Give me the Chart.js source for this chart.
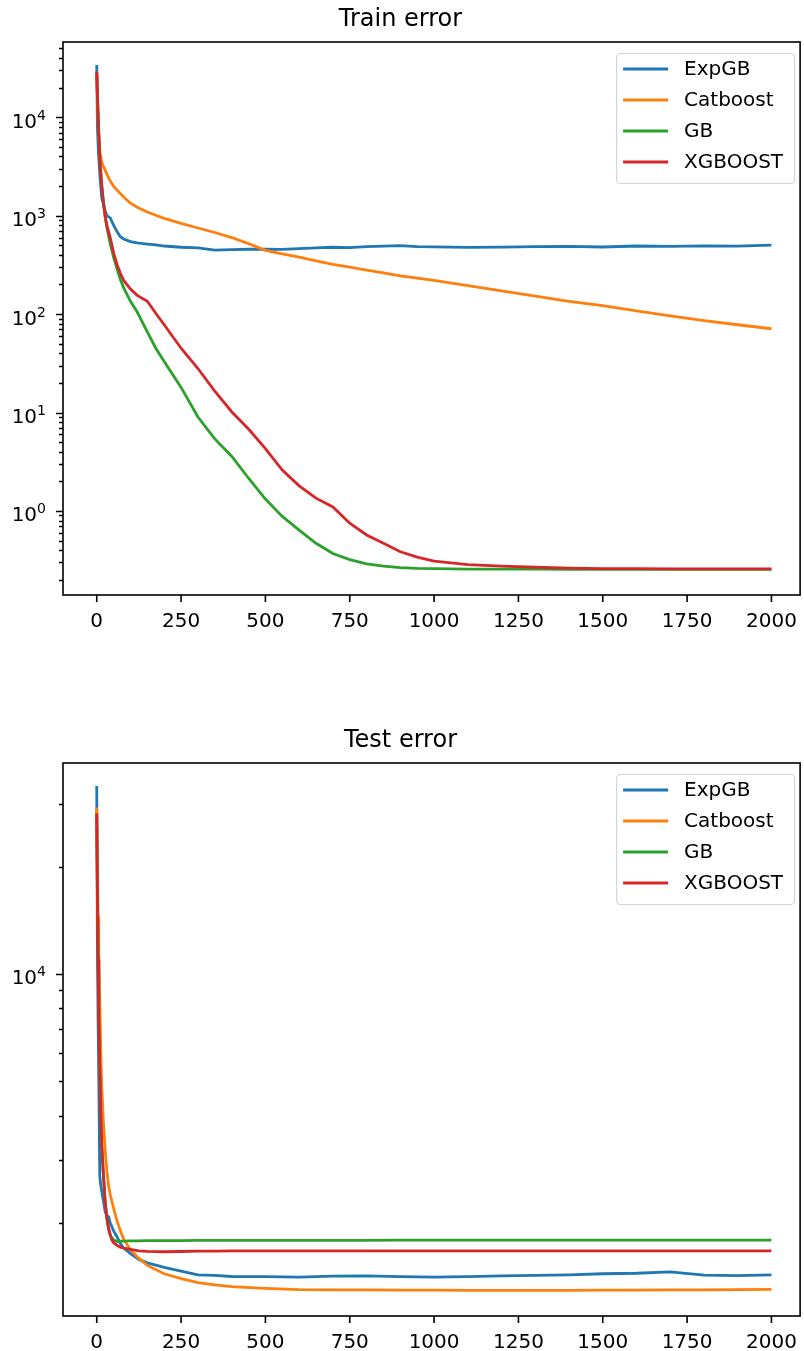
<!DOCTYPE html>
<html>
<head>
<meta charset="utf-8">
<script src="https://cdn.jsdelivr.net/npm/chart.js@4/dist/chart.umd.min.js"></script>
<style>
  html, body { margin: 0; padding: 0; background: #fff; overflow: hidden; }
  canvas { position: absolute; left: 0; }
  #train { top: 0; }
  #test { top: 700px; }
</style>
</head>
<body>
<canvas id="train" width="804" height="660"></canvas>
<canvas id="test" width="804" height="651"></canvas>
<script>
const seriesNames = ["ExpGB", "Catboost", "GB", "XGBOOST"];
const seriesColors = ["#1f77b4", "#ff7f0e", "#2ca02c", "#d62728"];
const xTicks = [0, 250, 500, 750, 1000, 1250, 1500, 1750, 2000];

// train error (log)
const trainIters = [0, 2, 5, 10, 15, 20, 25, 30, 40, 50, 60, 70, 80, 100, 120, 150, 175, 200, 250, 300, 350, 400, 450, 500, 550, 600, 650, 700, 750, 800, 850, 900, 950, 1000, 1100, 1200, 1300, 1400, 1500, 1600, 1700, 1800, 1900, 2000];
const trainExpGB = [33900, 8000, 4500, 2400, 1500, 1300, 1120, 1000, 950, 800, 690, 612, 580, 545, 530, 515, 505, 492, 478, 470, 447, 452, 456, 458, 455, 462, 470, 478, 474, 485, 490, 496, 486, 482, 476, 479, 485, 488, 481, 492, 487, 494, 490, 503];
const trainCatboost = [29000, 16000, 7400, 4200, 3500, 3150, 2900, 2650, 2250, 2000, 1820, 1680, 1550, 1340, 1220, 1090, 1010, 940, 835, 750, 675, 600, 520, 445, 410, 380, 348, 320, 300, 280, 262, 245, 232, 220, 195, 172, 152, 135, 122, 108, 96, 86, 78, 71];
const trainGB = [28000, 17000, 8300, 3300, 2000, 1350, 980, 760, 520, 380, 290, 225, 185, 135, 105, 66, 45, 33, 18, 9, 5.4, 3.6, 2.15, 1.32, 0.88, 0.64, 0.47, 0.37, 0.32, 0.29, 0.275, 0.266, 0.261, 0.259, 0.257, 0.256, 0.256, 0.255, 0.255, 0.255, 0.255, 0.255, 0.255, 0.255];
const trainXGB = [29000, 17000, 8300, 3300, 2000, 1350, 980, 800, 600, 420, 320, 260, 220, 180, 155, 135, 102, 78, 45, 28, 16.5, 10.2, 6.8, 4.3, 2.6, 1.8, 1.35, 1.1, 0.75, 0.57, 0.47, 0.385, 0.34, 0.31, 0.285, 0.275, 0.268, 0.263, 0.26, 0.259, 0.258, 0.258, 0.258, 0.258];
const trainDecades = [0, 1, 2, 3, 4];

// test error (log)
const testIters = [0, 2, 4, 6, 9, 12, 15, 20, 25, 30, 35, 40, 45, 50, 60, 70, 80, 100, 125, 150, 200, 250, 300, 350, 400, 500, 600, 700, 800, 900, 1000, 1100, 1200, 1300, 1400, 1500, 1600, 1700, 1800, 1900, 2000];
const testExpGB = [33700, 12000, 7500, 5200, 2700, 2550, 2450, 2300, 2150, 2100, 2080, 2000, 1950, 1900, 1830, 1750, 1700, 1640, 1580, 1545, 1500, 1465, 1430, 1425, 1415, 1414, 1410, 1418, 1420, 1414, 1410, 1414, 1420, 1425, 1430, 1440, 1445, 1458, 1428, 1422, 1429];
const testCatboost = [29300, 20000, 14500, 11500, 8500, 6000, 4800, 3800, 3200, 2800, 2550, 2400, 2300, 2200, 2030, 1900, 1800, 1680, 1590, 1520, 1440, 1395, 1360, 1340, 1325, 1310, 1300, 1298, 1297, 1296, 1295, 1294, 1294, 1294, 1294, 1295, 1296, 1297, 1298, 1300, 1302];
const testGB = [28000, 17000, 11000, 7500, 5400, 4000, 3300, 2700, 2300, 2060, 1930, 1850, 1815, 1790, 1775, 1777, 1779, 1781, 1782, 1783, 1784, 1785, 1786, 1786, 1787, 1787, 1788, 1788, 1788, 1789, 1789, 1789, 1789, 1790, 1790, 1790, 1790, 1790, 1790, 1790, 1790];
const testXGB = [28250, 17000, 11000, 7500, 5400, 4000, 3300, 2700, 2300, 2060, 1930, 1850, 1790, 1760, 1730, 1710, 1700, 1685, 1670, 1665, 1660, 1663, 1666, 1668, 1669, 1670, 1670, 1670, 1670, 1670, 1670, 1670, 1670, 1670, 1670, 1670, 1670, 1670, 1670, 1670, 1670];
const testDecades = [4];

const FONT = "'DejaVu Sans', 'Liberation Sans', sans-serif";

// matplotlib-ish spines, ticks, log labels and legend
const mplAxes = {
  id: "mplAxes",
  afterDatasetsDraw(chart, args, opts) {
    const { ctx, chartArea: a, scales } = chart;
    const x = scales.x, y = scales.y;
    ctx.save();
    ctx.strokeStyle = "#000";
    ctx.lineWidth = 1.6;
    ctx.strokeRect(a.left, a.top, a.right - a.left, a.bottom - a.top);

    ctx.beginPath();
    xTicks.forEach(v => {
      const px = x.getPixelForValue(v);
      ctx.moveTo(px, a.bottom);
      ctx.lineTo(px, a.bottom + 7);
    });
    // y ticks: majors + minors
    const lo = y.min, hi = y.max;
    for (let e = -2; e <= 5; e++) {
      for (let k = 1; k <= 9; k++) {
        const v = k * Math.pow(10, e);
        if (v < lo || v > hi) continue;
        const py = Math.round(y.getPixelForValue(v)) + 0.5;
        const len = k === 1 ? 7 : 4;
        ctx.moveTo(a.left, py);
        ctx.lineTo(a.left - len, py);
      }
    }
    ctx.stroke();

    // y labels 10^e
    ctx.fillStyle = "#000";
    ctx.textBaseline = "alphabetic";
    opts.decades.forEach(e => {
      const py = y.getPixelForValue(Math.pow(10, e));
      ctx.font = "14px " + FONT;
      const ew = ctx.measureText(String(e)).width;
      const right = a.left - 17;
      ctx.textAlign = "right";
      ctx.fillText(String(e), right, py + 2.5);
      ctx.font = "20px " + FONT;
      ctx.fillText("10", right - ew, py + 10.5);
    });

    // legend box
    const bx = a.right - 184, by = a.top + 11, bw = 178, bh = 130;
    ctx.beginPath();
    ctx.roundRect(bx + 0.5, by + 0.5, bw, bh, 4);
    ctx.fillStyle = "rgba(255,255,255,0.8)";
    ctx.fill();
    ctx.strokeStyle = "#d5d5d5";
    ctx.lineWidth = 1.2;
    ctx.stroke();
    chart.data.datasets.forEach((ds, i) => {
      const ly = by + 16 + i * 31;
      ctx.beginPath();
      ctx.strokeStyle = ds.borderColor;
      ctx.lineWidth = 2.8;
      ctx.moveTo(bx + 7, ly);
      ctx.lineTo(bx + 52, ly);
      ctx.stroke();
      ctx.fillStyle = "#000";
      ctx.font = "20px " + FONT;
      ctx.textAlign = "left";
      ctx.textBaseline = "middle";
      ctx.fillText(ds.label, bx + 68, ly + 1);
    });
    ctx.restore();
  }
};

function buildChart(id, title, iters, series, yMin, yMax, decades, padTop, padBottom, xHeight) {
  const datasets = series.map((vals, i) => ({
    label: seriesNames[i],
    data: iters.map((it, j) => ({ x: it, y: vals[j] })),
    borderColor: seriesColors[i],
    borderWidth: 2.8,
    pointRadius: 0,
    tension: 0,
    fill: false,
    order: 3 - i
  }));
  return new Chart(document.getElementById(id).getContext("2d"), {
    type: "line",
    data: { datasets },
    plugins: [mplAxes],
    options: {
      responsive: false,
      animation: false,
      layout: { padding: { left: 0, right: 3, top: padTop, bottom: padBottom } },
      plugins: {
        legend: { display: false },
        tooltip: { enabled: false },
        title: {
          display: true,
          text: title,
          color: "#000",
          font: { family: FONT, size: 24, weight: "normal", lineHeight: 1.2 },
          padding: { top: 5, bottom: 8.2 }
        },
        mplAxes: { decades }
      },
      scales: {
        x: {
          type: "linear",
          min: -100,
          max: 2085,
          grid: { display: false },
          border: { display: false },
          afterBuildTicks: s => { s.ticks = xTicks.map(v => ({ value: v })); },
          afterFit: s => { s.height = xHeight; },
          ticks: {
            autoSkip: false,
            maxRotation: 0,
            padding: 7,
            color: "#000",
            font: { family: FONT, size: 20 },
            callback: v => String(v)
          }
        },
        y: {
          type: "logarithmic",
          min: yMin,
          max: yMax,
          grid: { display: false },
          border: { display: false },
          ticks: { display: false },
          afterFit: s => { s.width = 63; }
        }
      }
    }
  });
}

buildChart("train", "Train error", trainIters,
  [trainExpGB, trainCatboost, trainGB, trainXGB], 0.14, 58200, trainDecades, 0, 20, 45);
buildChart("test", "Test error", testIters,
  [testExpGB, testCatboost, testGB, testXGB], 1096, 39100, testDecades, 21, 0, 35);
</script>
</body>
</html>
